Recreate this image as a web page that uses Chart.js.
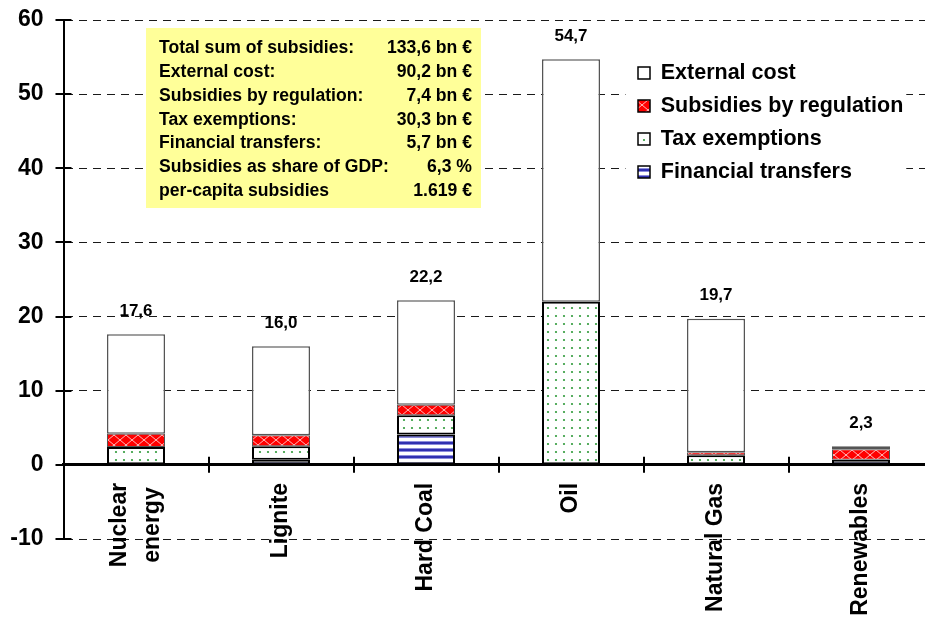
<!DOCTYPE html>
<html>
<head>
<meta charset="utf-8">
<script src="https://cdn.jsdelivr.net/npm/chart.js@4.4.1/dist/chart.umd.min.js"></script>
<style>
  html, body { margin: 0; padding: 0; background: #fff; overflow: hidden; }
  #wrap { position: relative; width: 935px; height: 619px; }
</style>
</head>
<body>
<div id="wrap"><canvas id="chart" width="935" height="619"></canvas></div>
<script>
// Energy subsidies per energy source, bn €
const categories = [['Nuclear', 'energy'], 'Lignite', 'Hard Coal', 'Oil', 'Natural Gas', 'Renewables'];
const financialTransfers    = [null, 0.7, 4.1, null, null, 0.7];
const taxExemptions         = [2.4, 1.8, 2.6, 22.0, 1.3, -0.2];
const subsidiesByRegulation = [1.8, 1.5, 1.4, null, 0.4, 1.4];
const externalCost          = [13.4, 12.0, 14.1, 32.7, 18.0, 0.4];
const yTicks = [-10, 0, 10, 20, 30, 40, 50, 60];

const summaryLabels = [
  'Total sum of subsidies:',
  'External cost:',
  'Subsidies by regulation:',
  'Tax exemptions:',
  'Financial transfers:',
  'Subsidies as share of GDP:',
  'per-capita subsidies'
];
const summaryValues = ['133,6 bn €', '90,2 bn €', '7,4 bn €', '30,3 bn €', '5,7 bn €', '6,3 %', '1.619 €'];

const FONT = 'Arial, "Liberation Sans", Helvetica, sans-serif';

// Fill patterns for the stacked segments
function tile(w, h, paint) {
  const c = document.createElement('canvas');
  c.width = w; c.height = h;
  const g = c.getContext('2d');
  paint(g);
  return g.createPattern(c, 'repeat');
}
const redHatch = tile(12, 10, g => {
  g.fillStyle = '#ff0000'; g.fillRect(0, 0, 12, 10);
  g.strokeStyle = 'rgba(255,205,205,0.9)'; g.lineWidth = 1;
  g.beginPath(); g.moveTo(0, 0); g.lineTo(12, 10); g.moveTo(12, 0); g.lineTo(0, 10); g.stroke();
});
const greenDots = tile(8, 8, g => {
  g.fillStyle = '#ffffff'; g.fillRect(0, 0, 8, 8);
  g.fillStyle = '#2f9a3a';
  g.beginPath(); g.arc(4, 4, 1.1, 0, Math.PI * 2); g.fill();
});
const blueStripes = tile(4, 7, g => {
  g.fillStyle = '#ffffff'; g.fillRect(0, 0, 4, 7);
  g.fillStyle = '#8c8cdc'; g.fillRect(0, 0, 4, 4);
  g.fillStyle = '#3030b0'; g.fillRect(0, 1, 4, 2);
});

const fmt = v => v.toFixed(1).replace('.', ',');

// Yellow summary box and white legend background, drawn above the grid
const panels = {
  id: 'panels',
  afterLayout(chart) {
    const lg = chart.legend;
    const w = lg.width, h = 150;
    lg.left = 626.5; lg.top = 50.75;
    lg.right = lg.left + w; lg.bottom = lg.top + h; lg.height = h;
  },
  beforeDatasetsDraw(chart) {
    const ctx = chart.ctx;
    const lg = chart.legend;
    ctx.save();
    const n = lg.legendItems.length;
    ctx.fillStyle = '#ffffff';
    ctx.fillRect(lg.left - 1, lg.top, lg.width - 6, n * 33 + 8);
    ctx.restore();
    lg.draw();

    ctx.save();
    ctx.fillStyle = '#ffff99';
    ctx.fillRect(146, 28, 335, 180);
    ctx.fillStyle = '#000';
    ctx.font = 'bold 17.6px ' + FONT;
    ctx.textBaseline = 'alphabetic';
    summaryLabels.forEach((t, i) => {
      const yy = 53 + i * 23.85;
      ctx.textAlign = 'left';
      ctx.fillText(t, 159, yy);
      ctx.textAlign = 'right';
      ctx.fillText(summaryValues[i], 472, yy);
    });
    ctx.restore();
  }
};

// Tick marks crossing both axes, category names under the zero line,
// and the total above each column
const marks = {
  id: 'marks',
  afterDatasetsDraw(chart) {
    const ctx = chart.ctx;
    const xs = chart.scales.x, ys = chart.scales.y;
    const x0 = xs.left, y0 = ys.getPixelForValue(0);
    ctx.save();
    ctx.strokeStyle = '#000';
    ctx.lineWidth = 2;
    ctx.beginPath();
    ys.ticks.forEach(t => {
      const py = Math.round(ys.getPixelForValue(t.value));
      ctx.moveTo(x0 - 8, py); ctx.lineTo(x0 + 8, py);
    });
    for (let i = 0; i < categories.length - 1; i++) {
      const px = Math.round(xs.getPixelForValue(i + 0.5));
      ctx.moveTo(px, y0 - 8); ctx.lineTo(px, y0 + 8);
    }
    ctx.stroke();

    // rotated category names; lines of a multi-line name are centred on each other
    ctx.fillStyle = '#000';
    ctx.font = 'bold 23px ' + FONT;
    ctx.textAlign = 'center';
    ctx.textBaseline = 'middle';
    const lh = 33;
    categories.forEach((c, i) => {
      const lines = Array.isArray(c) ? c : [c];
      const blockW = Math.max(...lines.map(t => ctx.measureText(t).width));
      const px = xs.getPixelForTick(i);
      lines.forEach((t, k) => {
        ctx.save();
        ctx.translate(px + (k - (lines.length - 1) / 2) * lh, y0 + 18 + blockW / 2);
        ctx.rotate(-Math.PI / 2);
        ctx.fillText(t, 0, 0);
        ctx.restore();
      });
    });

    ctx.font = 'bold 17px ' + FONT;
    ctx.textAlign = 'center';
    categories.forEach((c, i) => {
      const parts = [financialTransfers[i], taxExemptions[i], subsidiesByRegulation[i], externalCost[i]].map(v => v || 0);
      const total = parts.reduce((a, b) => a + b, 0);
      const top = parts.filter(v => v > 0).reduce((a, b) => a + b, 0);
      ctx.fillText(fmt(total), xs.getPixelForValue(i), ys.getPixelForValue(top) - 23);
    });
    ctx.restore();
  }
};

const common = { barPercentage: 0.4, categoryPercentage: 1.0, borderSkipped: false, stack: 's' };

new Chart(document.getElementById('chart'), {
  type: 'bar',
  data: {
    labels: categories,
    datasets: [
      Object.assign({ label: 'Financial transfers', data: financialTransfers, backgroundColor: blueStripes, borderColor: '#000', borderWidth: 2 }, common),
      Object.assign({ label: 'Tax exemptions', data: taxExemptions, backgroundColor: greenDots, borderColor: '#000', borderWidth: 2 }, common),
      Object.assign({ label: 'Subsidies by regulation', data: subsidiesByRegulation, backgroundColor: redHatch, borderColor: '#555', borderWidth: 1 }, common),
      Object.assign({ label: 'External cost', data: externalCost, backgroundColor: '#ffffff', borderColor: '#555', borderWidth: 1.5 }, common)
    ]
  },
  options: {
    responsive: false,
    animation: false,
    events: [],
    layout: { padding: { top: 20, bottom: 80, left: 0, right: 1.5 } },
    scales: {
      x: {
        type: 'category',
        stacked: true,
        position: { y: 0 },
        offset: true,
        afterFit: s => { s.paddingLeft = 0; s.paddingRight = 0; s.paddingTop = 0; s.paddingBottom = 0; },
        grid: { drawOnChartArea: false, drawTicks: false },
        border: { display: true, color: '#000', width: 3 },
        ticks: { display: false, autoSkip: false }
      },
      y: {
        stacked: true,
        position: 'left',
        min: yTicks[0],
        max: yTicks[yTicks.length - 1],
        afterBuildTicks: s => { s.ticks = yTicks.map(v => ({ value: v })); },
        afterFit: s => { s.width = 63.5; s.paddingTop = 0; s.paddingBottom = 0; },
        grid: { color: '#1a1a1a', lineWidth: 1, drawTicks: false },
        border: { display: true, color: '#000', width: 2, dash: [8, 6] },
        ticks: {
          padding: 20,
          color: '#000',
          font: { family: FONT, size: 23, weight: 'bold' }
        }
      }
    },
    plugins: {
      tooltip: { enabled: false },
      legend: {
        position: 'chartArea',
        align: 'start',
        reverse: true,
        labels: {
          color: '#000',
          boxWidth: 12,
          boxHeight: 12,
          padding: 11.5,
          font: { family: FONT, size: 21.5, weight: 'bold' },
          generateLabels(chart) {
            const items = Chart.defaults.plugins.legend.labels.generateLabels(chart);
            items.forEach(it => { it.lineWidth = 1.5; it.strokeStyle = '#000'; });
            return items;
          }
        }
      }
    }
  },
  plugins: [panels, marks]
});
</script>
</body>
</html>
